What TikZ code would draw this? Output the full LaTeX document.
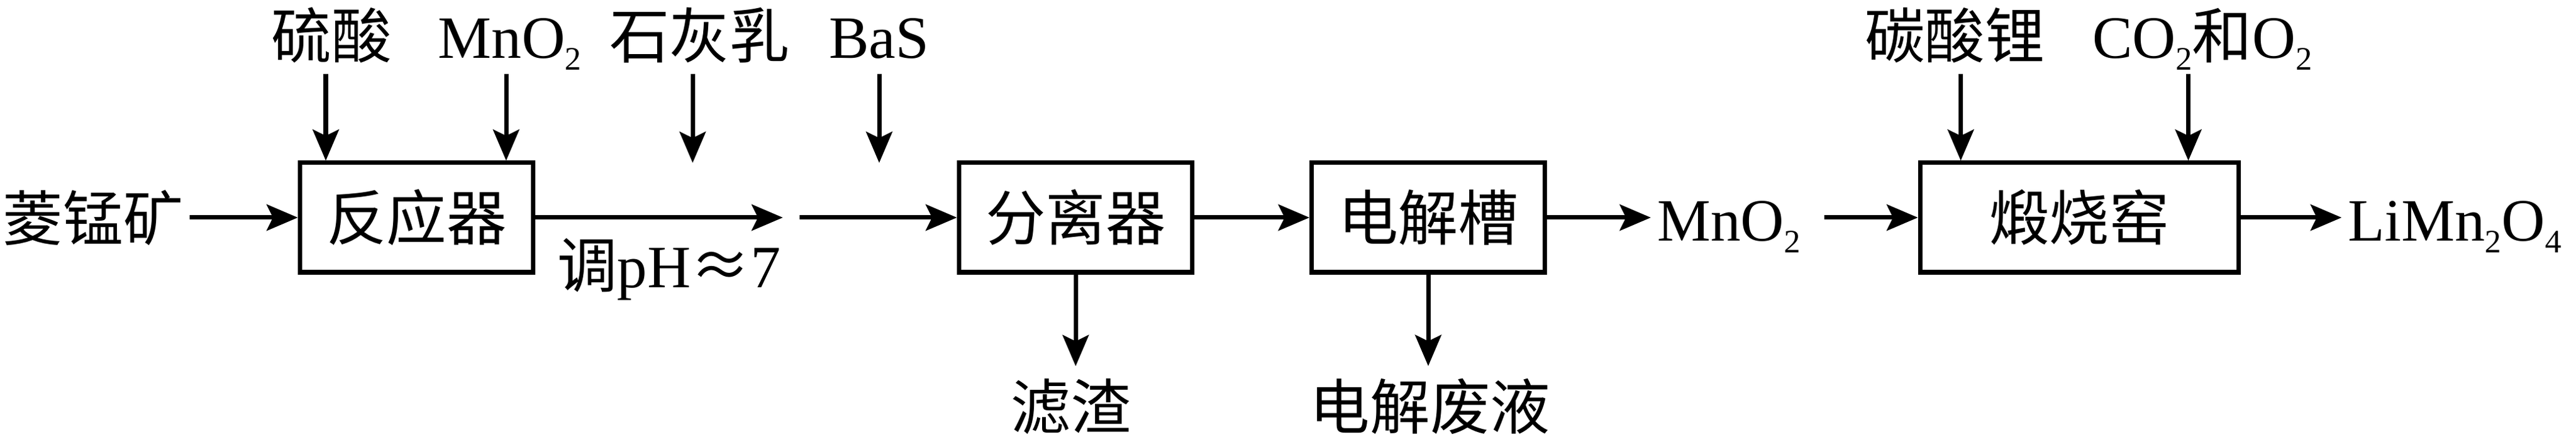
\documentclass[tikz,border=0pt]{standalone}
\usepackage{fontspec}
\setmainfont{Liberation Serif}
\newfontfamily\cjk{Noto Sans CJK SC}
\usetikzlibrary{arrows.meta}
\newcommand{\xia}[1]{\raisebox{-0.19em}{\fontsize{15}{15}\selectfont #1}}
\begin{document}
\begin{tikzpicture}
    [ caixa/.style={draw, line width=2pt, minimum width=3.75cm, minimum height=1.76cm, inner sep=0pt},
      rot/.style={inner sep=0.1cm, anchor=base},
      topo/.style={inner sep=0pt, anchor=base, text depth=0.24cm},
      baixo/.style={inner sep=0.2cm, anchor=base},
      seta/.style={-{Stealth[length=0.5cm,width=0.42cm,inset=0.1cm]}, line width=2pt},
      every node/.style={font=\fontsize{27.5}{33}\selectfont} ]

    \useasboundingbox (0,0) rectangle (41.43,7.11);

    \node (r1) at (6.70,3.61) [caixa] {\cjk 反应器};
    \node (r2) at (17.30,3.61) [caixa] {\cjk 分离器};
    \node (r3) at (22.97,3.61) [caixa] {\cjk 电解槽};
    \node (r4) at (33.44,3.61) [caixa,minimum width=5.12cm] {\cjk 煅烧窑};

    \node (n1) at (-0.06,3.23) [rot,anchor=base west] {\cjk 菱锰矿};
    \node (m1) at (26.55,3.23) [rot,anchor=base west] {MnO\xia{2}};
    \node (n2) at (37.66,3.23) [rot,anchor=base west] {LiMn\xia{2}O\xia{4}};
    \node (p1) at (10.76,2.48) [rot] {{\cjk 调}pH{\cjk ≈}7};

    \node (t1) at (5.33,6.17) [topo] {\cjk 硫酸};
    \node (t2) at (8.20,6.17) [topo] {MnO\xia{2}};
    \node (t3) at (11.25,6.17) [topo] {\cjk 石灰乳};
    \node (t4) at (14.14,6.17) [topo] {BaS};
    \node (t5) at (31.44,6.17) [topo] {\cjk 碳酸锂};
    \node (t6) at (35.42,6.17) [topo] {CO\xia{2}{\cjk 和}O\xia{2}};

    \node (b1) at (17.22,0.20) [baixo] {\cjk 滤渣};
    \node (b2) at (23.00,0.20) [baixo] {\cjk 电解废液};

    \coordinate (c1) at ([xshift=0.45cm]r1.north west);
    \coordinate (c2) at ([xshift=-0.47cm]r1.north east);
    \coordinate (c3) at (11.14,4.49);
    \coordinate (c4) at (14.14,4.49);
    \coordinate (c5) at ([xshift=0.69cm]r4.north west);
    \coordinate (c6) at ([xshift=-0.84cm]r4.north east);
    \coordinate (c7) at (12.59,3.61);
    \coordinate (c8) at (12.86,3.61);

    \draw[seta] (t1.south -| c1) -- (c1);
    \draw[seta] (t2.south -| c2) -- (c2);
    \draw[seta] (t3.south -| c3) -- (c3);
    \draw[seta] (t4.south -| c4) -- (c4);
    \draw[seta] (t5.south -| c5) -- (c5);
    \draw[seta] (t6.south -| c6) -- (c6);

    \draw[seta] (n1.east |- r1.west) -- (r1.west);
    \draw[seta] (r1.east) -- (c7);
    \draw[seta] (c8) -- (r2.west);
    \draw[seta] (r2.east) -- (r3.west);
    \draw[seta] (r3.east) -- (m1.west |- r3.east);
    \draw[seta] ([xshift=0.27cm]m1.east |- r4.west) -- (r4.west);
    \draw[seta] (r4.east) -- (n2.west |- r4.east);

    \draw[seta] (r2.south) -- (r2.south |- b1.north);
    \draw[seta] (r3.south) -- (r3.south |- b2.north);

\end{tikzpicture}
\end{document}
